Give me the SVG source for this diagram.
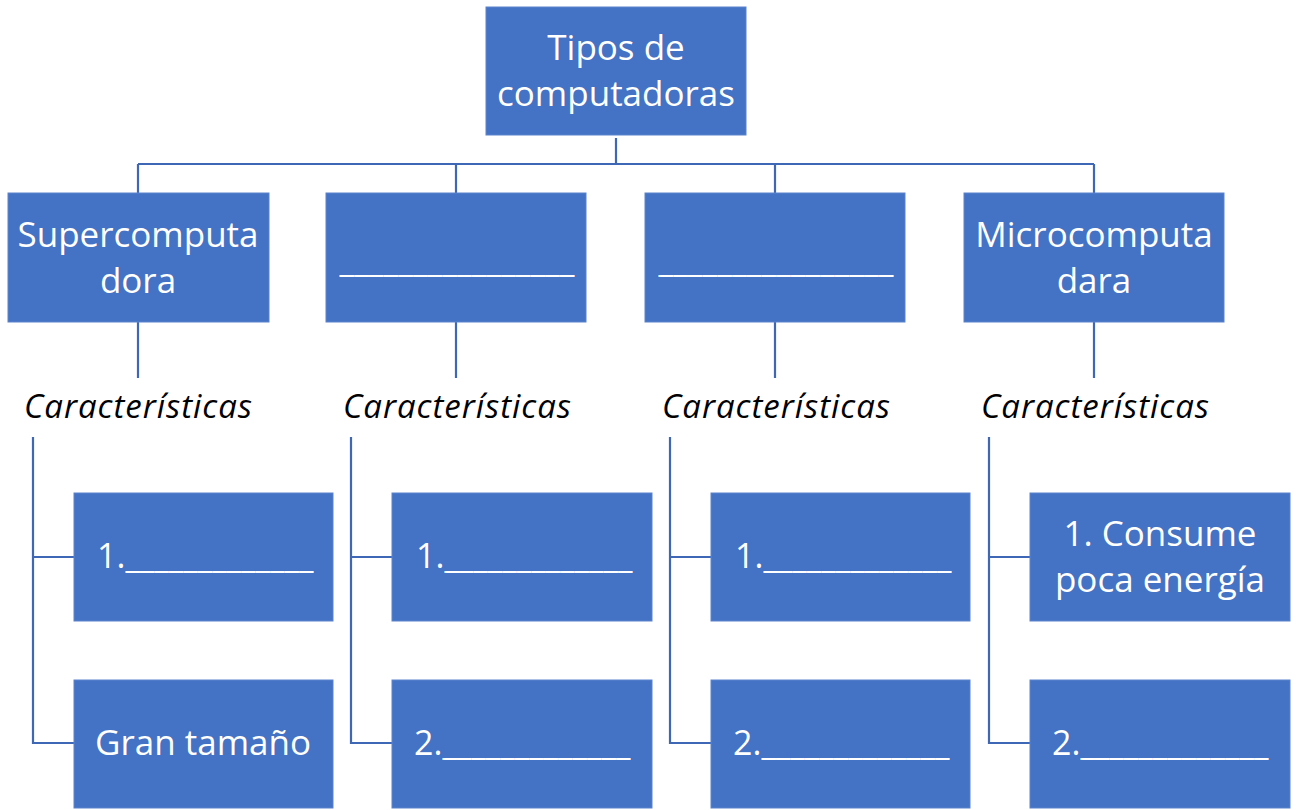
<svg xmlns="http://www.w3.org/2000/svg" width="1300" height="810" viewBox="0 0 1300 810">
<style>
.box{fill:#4472C4;stroke:#5B83CB;stroke-width:1}
.t{fill:#fff;font-family:"Open Sans","DejaVu Sans",sans-serif;font-size:35px;text-anchor:middle}
.tl{fill:#fff;font-family:"Open Sans","DejaVu Sans",sans-serif;font-size:34px}
.c{fill:#000;font-family:"Open Sans","DejaVu Sans",sans-serif;font-size:33px;font-style:italic;text-anchor:middle}
.ln{fill:none;stroke:#3E68B5;stroke-width:2.2}
</style>
<rect width="1300" height="810" fill="#fff"/>
<g id="connectors" class="ln">
<path d="M616,138V164M138,164H1094M138,164V193M456,164V193M775,164V193M1094,164V193"/>
<path d="M138,322V378M456,322V378M775,322V378M1094,322V378"/>
<path d="M33,437V743H74M33,557H74"/>
<path d="M351,437V743H392M351,557H392"/>
<path d="M670,437V743H711M670,557H711"/>
<path d="M989,437V743H1030M989,557H1030"/>
</g>
<g id="root"><rect class="box" x="486" y="7" width="260" height="128"/>
<text class="t" x="616" y="60">Tipos de</text><text class="t" x="616" y="106">computadoras</text></g>
<g id="super"><rect class="box" x="8" y="193" width="261" height="129"/>
<text class="t" x="138" y="247">Supercomputa</text><text class="t" x="138" y="293">dora</text></g>
<g id="tipo2"><rect class="box" x="326" y="193" width="260" height="129"/>
<text class="t" x="457" y="272" textLength="235" lengthAdjust="spacingAndGlyphs">________________</text></g>
<g id="tipo3"><rect class="box" x="645" y="193" width="260" height="129"/>
<text class="t" x="776" y="272" textLength="235" lengthAdjust="spacingAndGlyphs">________________</text></g>
<g id="micro"><rect class="box" x="964" y="193" width="260" height="129"/>
<text class="t" x="1094" y="247">Microcomputa</text><text class="t" x="1094" y="293">dara</text></g>
<g id="car1"><text class="c" x="138" y="418" textLength="228">Características</text></g>
<g id="car2"><text class="c" x="457" y="418" textLength="228">Características</text></g>
<g id="car3"><text class="c" x="776" y="418" textLength="228">Características</text></g>
<g id="car4"><text class="c" x="1095" y="418" textLength="228">Características</text></g>
<g id="c1a"><rect class="box" x="74" y="493" width="259" height="128"/><text class="tl" x="97" y="568"><tspan>1.</tspan><tspan textLength="188" lengthAdjust="spacingAndGlyphs">_____________</tspan></text></g>
<g id="c1b"><rect class="box" x="74" y="680" width="259" height="128"/><text class="t" x="203" y="755">Gran tamaño</text></g>
<g id="c2a"><rect class="box" x="392" y="493" width="260" height="128"/><text class="tl" x="416" y="568"><tspan>1.</tspan><tspan textLength="188" lengthAdjust="spacingAndGlyphs">_____________</tspan></text></g>
<g id="c2b"><rect class="box" x="392" y="680" width="260" height="128"/><text class="tl" x="414" y="755"><tspan>2.</tspan><tspan textLength="188" lengthAdjust="spacingAndGlyphs">_____________</tspan></text></g>
<g id="c3a"><rect class="box" x="711" y="493" width="259" height="128"/><text class="tl" x="735" y="568"><tspan>1.</tspan><tspan textLength="188" lengthAdjust="spacingAndGlyphs">_____________</tspan></text></g>
<g id="c3b"><rect class="box" x="711" y="680" width="259" height="128"/><text class="tl" x="733" y="755"><tspan>2.</tspan><tspan textLength="188" lengthAdjust="spacingAndGlyphs">_____________</tspan></text></g>
<g id="c4a"><rect class="box" x="1030" y="493" width="260" height="128"/><text class="t" x="1160" y="546">1. Consume</text><text class="t" x="1160" y="592">poca energía</text></g>
<g id="c4b"><rect class="box" x="1030" y="680" width="260" height="128"/><text class="tl" x="1052" y="755"><tspan>2.</tspan><tspan textLength="188" lengthAdjust="spacingAndGlyphs">_____________</tspan></text></g>
</svg>
